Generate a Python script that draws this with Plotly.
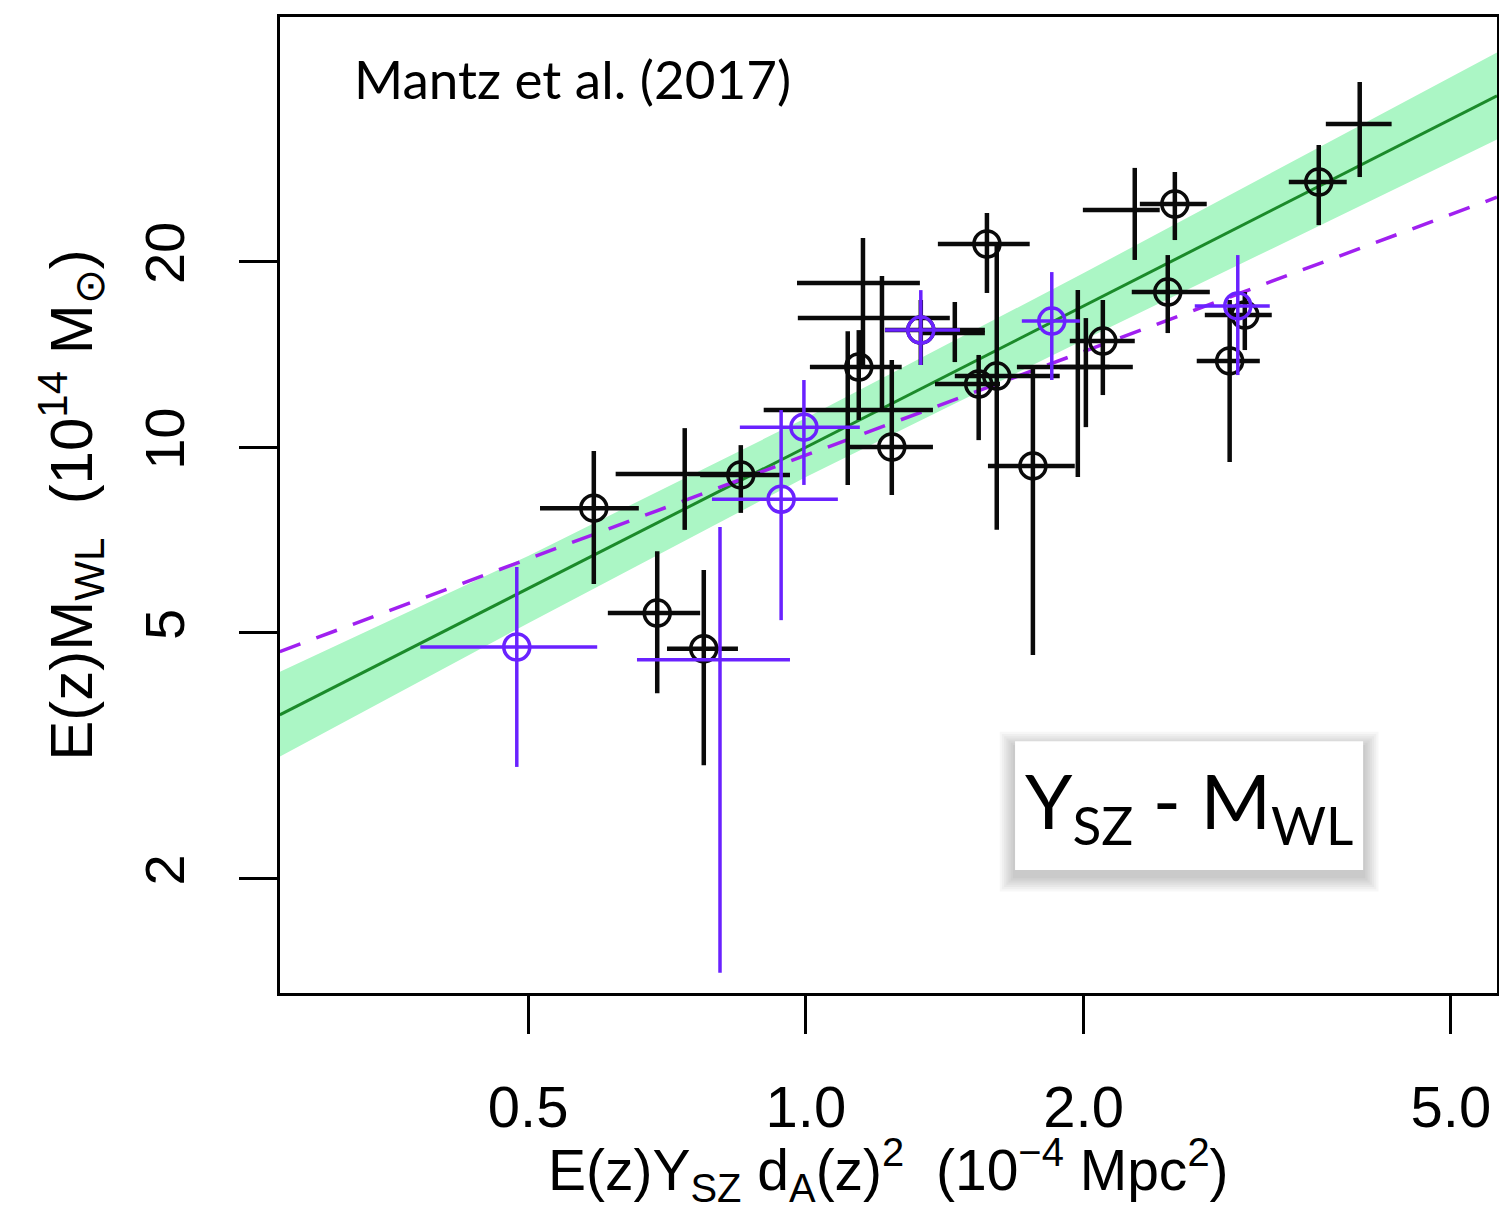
import plotly.graph_objects as go

# ---- data (x: E(z) Y_SZ d_A^2 [1e-4 Mpc^2], y: E(z) M_WL [1e14 Msun]) ----
# black points with circle markers
blk_x    = [0.589, 0.690, 0.775, 0.850, 1.141, 1.239, 1.332, 1.571, 1.539, 1.610, 1.762, 2.098, 2.511, 2.467, 2.879, 2.990, 3.596]
blk_xlo  = [0.515, 0.610, 0.707, 0.768, 1.010, 1.108, 1.218, 1.390, 1.380, 1.450, 1.575, 1.932, 2.301, 2.255, 2.652, 2.706, 3.337]
blk_xhi  = [0.659, 0.768, 0.844, 0.961, 1.270, 1.373, 1.563, 1.748, 1.623, 1.884, 1.956, 2.272, 2.719, 2.740, 3.104, 3.198, 3.856]
blk_y    = [7.96, 5.38, 4.71, 9.01, 13.48, 10.00, 15.47, 21.33, 12.65, 13.03, 9.32, 14.85, 24.77, 17.83, 13.79, 16.36, 26.89]
blk_ylo  = [6.00, 3.99, 3.05, 7.82, 11.06, 8.36, 13.58, 17.77, 10.26, 7.34, 4.60, 12.14, 21.65, 15.30, 9.46, 14.36, 22.89]
blk_yhi  = [9.85, 6.78, 6.32, 10.07, 15.47, 13.84, 17.31, 23.95, 14.10, 21.25, 13.48, 17.31, 27.91, 20.47, 17.31, 17.83, 30.87]

# black points drawn as bare crosses (no marker)
crs_x    = [0.739, 1.153, 1.209, 1.110, 1.450, 2.272, 3.983, 1.971, 2.011]
crs_xlo  = [0.622, 0.978, 0.980, 0.900, 1.329, 1.996, 3.660, 1.693, 1.884]
crs_xhi  = [0.892, 1.329, 1.432, 1.373, 1.563, 2.418, 4.313, 2.261, 2.134]
crs_y    = [9.04, 18.45, 16.18, 11.48, 15.30, 24.22, 33.38, 13.48, 13.48]
crs_ylo  = [7.34, 13.58, 11.48, 8.68, 13.73, 20.10, 27.39, 8.94, 10.77]
crs_yhi  = [10.73, 21.82, 18.93, 15.40, 17.18, 28.34, 39.05, 17.96, 16.18]

# purple points with circle markers
pur_x    = [0.486, 0.940, 0.995, 1.332, 1.847, 2.938]
pur_xlo  = [0.382, 0.791, 0.848, 1.218, 1.714, 2.639]
pur_xhi  = [0.594, 1.083, 1.144, 1.469, 1.981, 3.182]
pur_y    = [4.74, 8.23, 10.77, 15.47, 16.00, 16.93]
pur_ylo  = [3.03, 5.24, 8.68, 13.58, 12.84, 13.08]
pur_yhi  = [6.39, 11.48, 12.84, 17.96, 19.21, 20.47]

# purple bare cross
pcr_x, pcr_xlo, pcr_xhi = [0.807], [0.656], [0.961]
pcr_y, pcr_ylo, pcr_yhi = [4.52], [1.405], [7.42]

# best fit line, its band, and the dashed comparison relation
fit_x = [0.269, 5.61]
fit_y = [3.68, 37.1]
band_x  = [0.269, 0.5, 1.0, 2.0, 5.61]
band_lo = [3.15, 5.18, 8.94, 14.91, 31.5]
band_hi = [4.32, 6.66, 11.14, 19.14, 43.6]
dash_x = [0.269, 5.61]
dash_y = [4.66, 25.4]

xticks = [0.5, 1.0, 2.0, 5.0]
xticklabels = ["0.5", "1.0", "2.0", "5.0"]
yticks = [2, 5, 10, 20]
yticklabels = ["2", "5", "10", "20"]

BLACK = "#0a0a0a"
PURPLE = "#6a22ff"
DASH = "#a020f0"
BAND = "#abf6c5"
GREEN = "#1b8a2a"


def errs(v, lo, hi):
    return [h - a for a, h in zip(v, hi)], [a - l for a, l in zip(v, lo)]


def points(x, xlo, xhi, y, ylo, yhi, color, circle, thick):
    xp, xm = errs(x, xlo, xhi)
    yp, ym = errs(y, ylo, yhi)
    if circle:
        marker = dict(symbol="circle-open", size=26, color=color, line=dict(width=3.5, color=color))
    else:
        marker = dict(symbol="circle", size=1, color=color)
    return go.Scatter(
        x=x, y=y, mode="markers", marker=marker, hoverinfo="skip",
        error_x=dict(type="data", symmetric=False, array=xp, arrayminus=xm, width=0, thickness=thick, color=color),
        error_y=dict(type="data", symmetric=False, array=yp, arrayminus=ym, width=0, thickness=thick, color=color),
    )


fig = go.Figure()

# confidence band
fig.add_trace(go.Scatter(x=band_x, y=band_hi, mode="lines", line=dict(width=0), hoverinfo="skip"))
fig.add_trace(go.Scatter(x=band_x, y=band_lo, mode="lines", line=dict(width=0),
                         fill="tonexty", fillcolor=BAND, hoverinfo="skip"))
fig.add_trace(go.Scatter(x=fit_x, y=fit_y, mode="lines", line=dict(color=GREEN, width=3)))
fig.add_trace(go.Scatter(x=dash_x, y=dash_y, mode="lines", line=dict(color=DASH, width=3.5, dash="22px,17px")))

fig.add_trace(points(crs_x, crs_xlo, crs_xhi, crs_y, crs_ylo, crs_yhi, BLACK, False, 4.5))
fig.add_trace(points(blk_x, blk_xlo, blk_xhi, blk_y, blk_ylo, blk_yhi, BLACK, True, 4.5))
fig.add_trace(points(pcr_x, pcr_xlo, pcr_xhi, pcr_y, pcr_ylo, pcr_yhi, PURPLE, False, 3.5))
fig.add_trace(points(pur_x, pur_xlo, pur_xhi, pur_y, pur_ylo, pur_yhi, PURPLE, True, 3.5))

axis_common = dict(
    type="log", showgrid=False, zeroline=False, automargin=False,
    showline=True, mirror=True, linecolor="black", linewidth=3,
    ticks="outside", ticklen=38, tickwidth=3, tickcolor="black",
)
fig.update_xaxes(**axis_common, range=[-0.570, 0.749], tickvals=xticks, ticktext=xticklabels,
                 tickfont=dict(family="Liberation Sans", size=58, color="black"), ticklabelstandoff=23)
fig.update_yaxes(**axis_common, range=[0.115, 1.697], tickvals=yticks, ticktext=yticklabels,
                 tickangle=-90, tickfont=dict(family="Liberation Sans", size=56, color="black"),
                 ticklabelstandoff=33)

# shadowed label box (bottom right); soft shadow from stacked translucent rects
bx0, bx1, by0, by1 = 0.604, 0.890, 0.126, 0.258
px_x, px_y = 1 / 1217, 1 / 976
shapes = []
for k in range(7, 0, -1):
    g = 2.2 * k
    shapes.append(dict(type="rect", xref="paper", yref="paper", layer="above",
                       x0=bx0 - g * px_x, x1=bx1 + g * px_x,
                       y0=by0 - (g + 6) * px_y, y1=by1 + (g - 6) * px_y,
                       line=dict(width=0), fillcolor="rgba(0,0,0,0.03)"))
shapes.append(dict(type="rect", xref="paper", yref="paper", layer="above",
                   x0=bx0, x1=bx1, y0=by0, y1=by1, line=dict(width=0), fillcolor="white"))

annotations = [
    dict(text="Mantz et al. (2017)", x=0.059, y=0.937, xref="paper", yref="paper",
         xanchor="left", yanchor="middle", showarrow=False,
         font=dict(family="Lato", size=53, color="black")),
    dict(text="Y<sub>SZ</sub> - M<sub>WL</sub>", x=(bx0 + bx1) / 2, y=0.193, xref="paper", yref="paper",
         xanchor="center", yanchor="middle", showarrow=False,
         font=dict(family="Lato", size=76, color="black")),
    dict(text="E(z)Y<sub>SZ</sub> d<sub>A</sub>(z)<sup>2</sup>\u00a0\u00a0(10<sup>\u22124</sup> Mpc<sup>2</sup>)",
         x=0.5, y=-0.181, xref="paper", yref="paper", xanchor="center", yanchor="middle",
         showarrow=False, font=dict(family="Liberation Sans", size=57, color="black")),
    dict(text="E(z)M<sub>WL</sub>\u00a0\u00a0(10<sup>14</sup> M<sub>\u2299</sub>)",
         x=-0.172, y=0.5, xref="paper", yref="paper", xanchor="center", yanchor="middle",
         textangle=-90, showarrow=False, font=dict(family="Liberation Sans", size=60, color="black")),
]

# the page body adds an 8px offset, so the figure is 8px smaller and margins shifted
fig.update_layout(
    width=1499, height=1204,
    margin=dict(l=272, r=10, t=9, b=219),
    plot_bgcolor="white", paper_bgcolor="white",
    showlegend=False,
    shapes=shapes, annotations=annotations,
)

fig.write_html("out.html")
